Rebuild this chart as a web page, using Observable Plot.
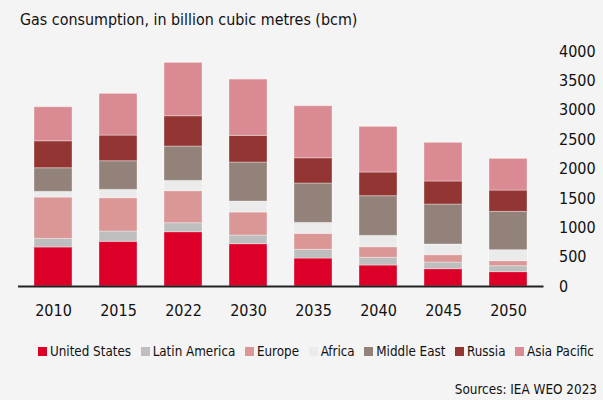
<!DOCTYPE html>
<html>
<head>
<meta charset="utf-8">
<script src="https://cdn.jsdelivr.net/npm/d3@7"></script>
<script src="https://cdn.jsdelivr.net/npm/@observablehq/plot@0.6"></script>
<style>
  html, body { margin: 0; padding: 0; background: #f4f4f4; }
  #wrap { position: relative; width: 603px; height: 400px; background: #f4f4f4; overflow: hidden;
          font-family: "DejaVu Sans Condensed", "DejaVu Sans", sans-serif; font-stretch: condensed; color: #111; }
  #title { position: absolute; left: 20px; top: 10px; font-size: 15.9px; white-space: nowrap; }
  #chart { position: absolute; left: 0; top: 30px; }
  #legend { position: absolute; left: 38px; width: 556px; top: 344px; display: flex; justify-content: space-between; font-size: 13.3px; white-space: nowrap; }
  #legend .item { display: flex; align-items: center; gap: 3px; }
  #legend .sw { width: 9px; height: 9px; display: inline-block; }
  #source { position: absolute; right: 6px; top: 382px; font-size: 13.4px; white-space: nowrap; }
</style>
</head>
<body>
<div id="wrap">
  <div id="title">Gas consumption, in billion cubic metres (bcm)</div>
  <div id="chart"></div>
  <div id="legend"></div>
  <div id="source">Sources: IEA WEO 2023</div>
</div>
<script>
const years = ["2010", "2015", "2022", "2030", "2035", "2040", "2045", "2050"];
const seriesNames = ["United States", "Latin America", "Europe", "Africa", "Middle East", "Russia", "Asia Pacific"];
const seriesColors = ["#dc0028", "#bebebe", "#db9696", "#ebebeb", "#928279", "#933533", "#d98a92"];
const unitedStates = [664, 760, 924, 720, 476, 357, 295, 244];
const latinAmerica = [147, 176, 153, 148, 148, 131, 113, 102];
const europe       = [703, 567, 545, 391, 272, 181, 125, 85];
const africa       = [97, 142, 176, 187, 187, 193, 182, 187];
const middleEast   = [402, 487, 584, 664, 670, 675, 680, 652];
const russia       = [459, 437, 516, 454, 430, 403, 392, 363];
const asiaPacific  = [579, 710, 908, 958, 885, 777, 658, 539];
const yTicks = [0, 500, 1000, 1500, 2000, 2500, 3000, 3500, 4000];

const seriesValues = [unitedStates, latinAmerica, europe, africa, middleEast, russia, asiaPacific];
const data = [];
years.forEach((y, i) => {
  seriesNames.forEach((s, j) => data.push({year: y, series: s, value: seriesValues[j][i]}));
});

const plot = Plot.plot({
  width: 603,
  height: 300,
  marginTop: 21,
  marginBottom: 44,
  marginLeft: 18,
  marginRight: 59.5,
  style: { background: "transparent", fontFamily: "'DejaVu Sans Condensed', 'DejaVu Sans', sans-serif", fontSize: "15px", color: "#111" },
  x: { domain: years, paddingInner: 0.42, paddingOuter: 0.21, label: null },
  y: { domain: [0, 4000], label: null },
  color: { domain: seriesNames, range: seriesColors },
  marks: [
    Plot.gridY(yTicks, { stroke: "#c4c4c4", strokeOpacity: 1, strokeDasharray: "3,1.5", strokeWidth: 1, x1: 20, x2: 543 }),
    Plot.barY(data, { x: "year", y: "value", fill: "series", order: seriesNames, stroke: "#ffffff", strokeOpacity: 0.35, strokeWidth: 1 }),
    Plot.ruleY([0], { stroke: "#222", strokeWidth: 2 }),
    Plot.axisY(yTicks, { anchor: "right", tickSize: 0, tickPadding: 15, textAnchor: "start", fontSize: 16, tickFormat: d => String(d) }),
    Plot.axisX({ tickSize: 0, tickPadding: 18, fontSize: 16 })
  ]
});
document.getElementById("chart").appendChild(plot);

const legend = document.getElementById("legend");
seriesNames.forEach((s, j) => {
  const it = document.createElement("div");
  it.className = "item";
  const sw = document.createElement("span");
  sw.className = "sw";
  sw.style.background = seriesColors[j];
  const tx = document.createElement("span");
  tx.textContent = s;
  it.appendChild(sw); it.appendChild(tx);
  legend.appendChild(it);
});
</script>
</body>
</html>
